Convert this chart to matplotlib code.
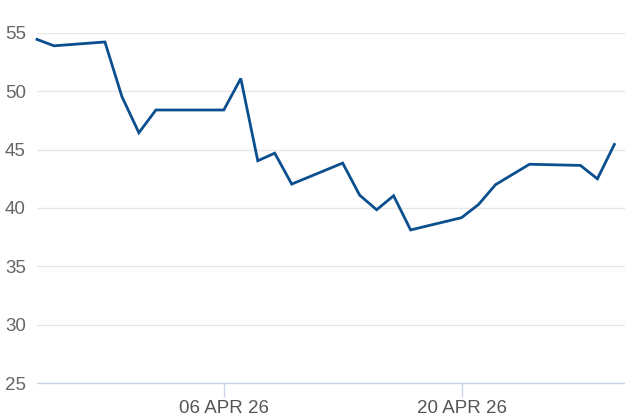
import numpy as np
import matplotlib.pyplot as plt
import matplotlib.dates as mdates

# data
dates = np.array(['2026-03-26', '2026-03-27', '2026-03-30', '2026-03-31', '2026-04-01',
                  '2026-04-02', '2026-04-06', '2026-04-07', '2026-04-08', '2026-04-09',
                  '2026-04-10', '2026-04-13', '2026-04-14', '2026-04-15', '2026-04-16',
                  '2026-04-17', '2026-04-20', '2026-04-21', '2026-04-22', '2026-04-24',
                  '2026-04-27', '2026-04-28', '2026-04-29'], dtype='datetime64[D]')
values = [54.45, 53.9, 54.23, 49.55, 46.45,
          48.4, 48.4, 51.1, 44.05, 44.7,
          42.05, 43.85, 41.1, 39.85, 41.05,
          38.12, 39.17, 40.3, 42.0, 43.75,
          43.65, 42.5, 45.45]
y_ticks = [25, 30, 35, 40, 45, 50, 55]
x_ticks = np.array(['2026-04-06', '2026-04-20'], dtype='datetime64[D]')
x_labels = ['06 APR 26', '20 APR 26']

plt.rcParams['font.family'] = ['Liberation Sans', 'DejaVu Sans']

fig = plt.figure(figsize=(6.25, 4.17), dpi=100)
ax = fig.add_axes([0.0592, 0.0815, 0.9408, 0.8394])

ax.plot(dates, values, color='#0b4f8e', linewidth=2, clip_on=False, solid_joinstyle='miter')

ax.set_ylim(25, 55)
ax.set_xlim(np.datetime64('2026-03-26'), np.datetime64('2026-04-29T15:00'))
ax.set_yticks(y_ticks)
ax.set_xticks(x_ticks)
ax.set_xticklabels(x_labels)

ax.grid(axis='y', color='#e6e6e6', linewidth=1)
ax.set_axisbelow(True)
for s in ['top', 'right', 'left']:
    ax.spines[s].set_visible(False)
ax.spines['bottom'].set_color('#ccd6eb')
ax.spines['bottom'].set_linewidth(1)

ax.tick_params(axis='y', length=0, pad=8, labelsize=13.5, labelcolor='#666666')
ax.tick_params(axis='x', length=10, width=1, color='#ccd6eb', pad=2,
               labelsize=13.5, labelcolor='#555555')

fig.savefig('out.png', dpi=100)
